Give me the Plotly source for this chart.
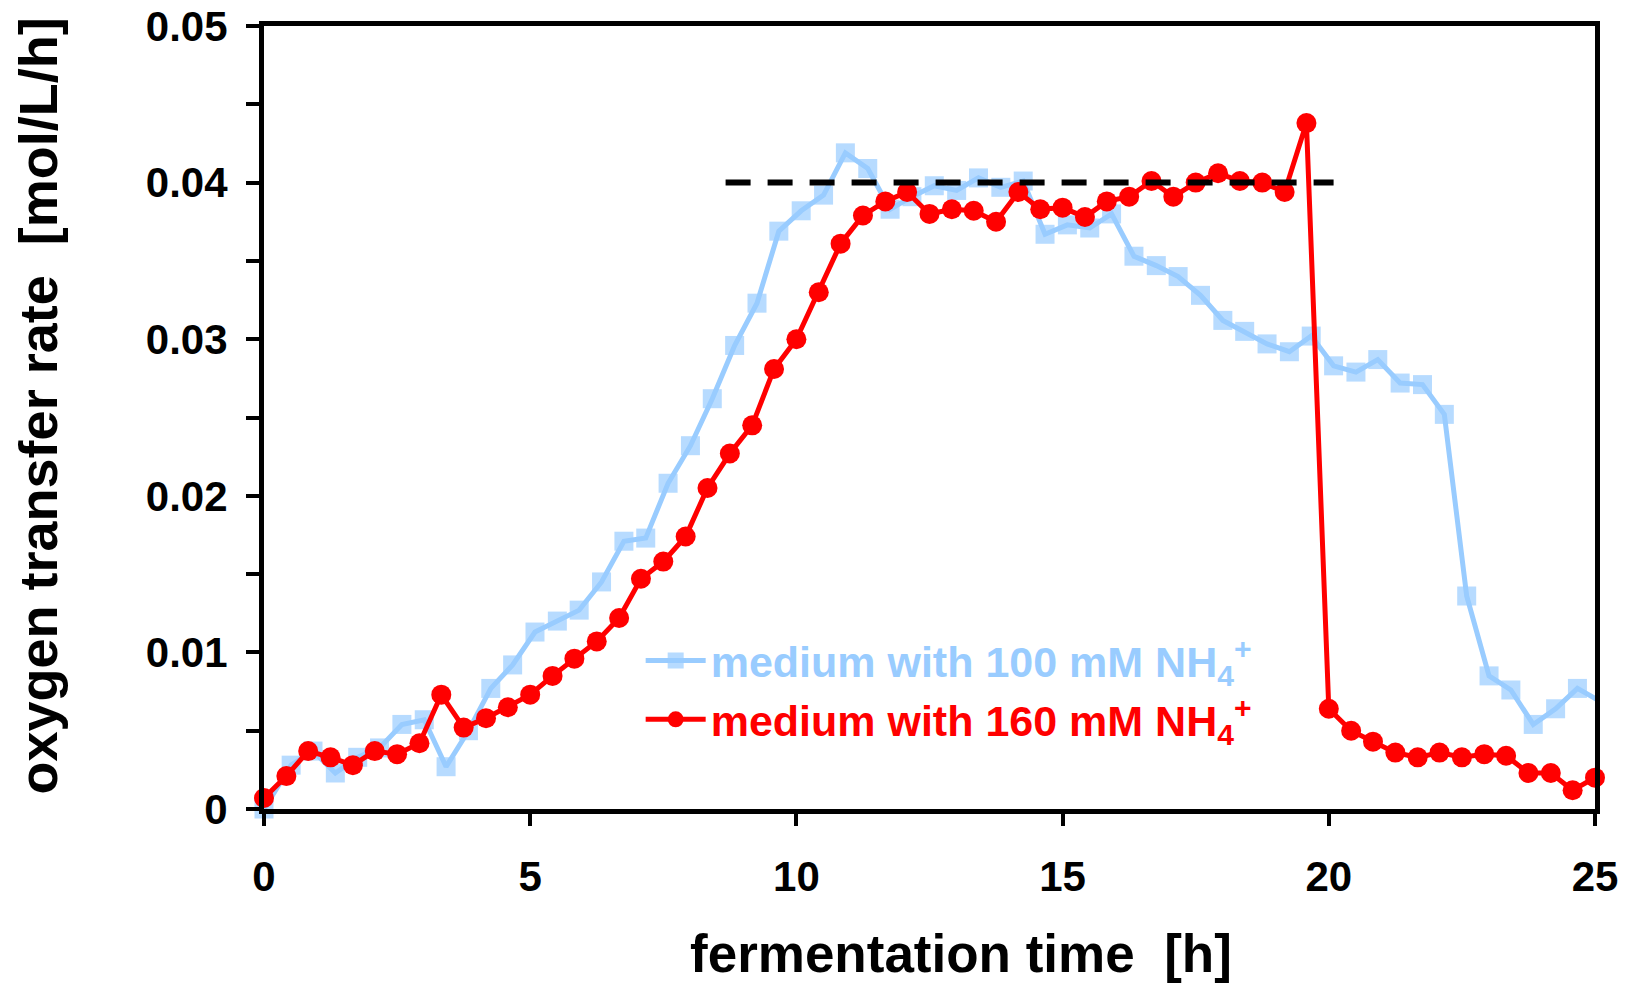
import plotly.graph_objects as go

# Oxygen transfer rate (mol/L/h) over fermentation time (h)
time_100 = [0.0, 0.51, 0.92, 1.34, 1.76, 2.17, 2.59, 3.01, 3.42, 3.84,
            4.26, 4.67, 5.09, 5.51, 5.92, 6.34, 6.76, 7.17, 7.59, 8.01,
            8.42, 8.84, 9.26, 9.67, 10.09, 10.51, 10.92, 11.34, 11.76, 12.17,
            12.59, 13.01, 13.42, 13.84, 14.26, 14.67, 15.09, 15.51, 15.92, 16.34,
            16.76, 17.17, 17.59, 18.01, 18.42, 18.84, 19.26, 19.67, 20.09, 20.51,
            20.92, 21.34, 21.76, 22.17, 22.59, 23.01, 23.42, 23.84, 24.26, 24.67,
            25.09]
otr_100 = [0.0000, 0.0028, 0.0037, 0.0023, 0.0033, 0.0039, 0.0054, 0.0057, 0.0027, 0.0050,
           0.0077, 0.0092, 0.0113, 0.0120, 0.0127, 0.0145, 0.0171, 0.0173, 0.0208, 0.0232,
           0.0262, 0.0296, 0.0323, 0.0369, 0.0382, 0.0392, 0.0419, 0.0409, 0.0383, 0.0391,
           0.0398, 0.0395, 0.0403, 0.0397, 0.0401, 0.0367, 0.0373, 0.0371, 0.0380, 0.0353,
           0.0347, 0.0340, 0.0328, 0.0312, 0.0305, 0.0297, 0.0292, 0.0302, 0.0283, 0.0279,
           0.0287, 0.0272, 0.0271, 0.0252, 0.0136, 0.0085, 0.0076, 0.0054, 0.0064, 0.0077,
           0.0069]

time_160 = [0.0, 0.42, 0.83, 1.25, 1.67, 2.08, 2.5, 2.92, 3.33, 3.75,
            4.17, 4.58, 5.0, 5.42, 5.83, 6.25, 6.67, 7.08, 7.5, 7.92,
            8.33, 8.75, 9.17, 9.58, 10.0, 10.42, 10.83, 11.25, 11.67, 12.08,
            12.5, 12.92, 13.33, 13.75, 14.17, 14.58, 15.0, 15.42, 15.83, 16.25,
            16.67, 17.08, 17.5, 17.92, 18.33, 18.75, 19.17, 19.58, 20.0, 20.42,
            20.83, 21.25, 21.67, 22.08, 22.5, 22.92, 23.33, 23.75, 24.17, 24.58,
            25.0]
otr_160 = [0.0007, 0.0021, 0.0037, 0.0033, 0.0028, 0.0037, 0.0035, 0.0042, 0.0073, 0.0052,
           0.0058, 0.0065, 0.0073, 0.0085, 0.0096, 0.0107, 0.0122, 0.0147, 0.0158, 0.0174,
           0.0205, 0.0227, 0.0245, 0.0281, 0.0300, 0.0330, 0.0361, 0.0379, 0.0388, 0.0394,
           0.0380, 0.0383, 0.0382, 0.0375, 0.0394, 0.0383, 0.0384, 0.0378, 0.0388, 0.0391,
           0.0401, 0.0391, 0.0400, 0.0406, 0.0401, 0.0400, 0.0394, 0.0438, 0.0064, 0.0050,
           0.0043, 0.0036, 0.0033, 0.0036, 0.0033, 0.0035, 0.0034, 0.0023, 0.0023, 0.0012,
           0.0020]

# Maximum oxygen transfer capacity (plateau)
plateau_time = [8.67, 20.09]
plateau_otr = [0.040, 0.040]

x_ticks = [0, 5, 10, 15, 20, 25]
y_ticks = [0, 0.01, 0.02, 0.03, 0.04, 0.05]
y_ticklabels = ["0", "0.01", "0.02", "0.03", "0.04", "0.05"]

BLUE = "#99CCFF"
RED = "#FF0000"
FONT = "Liberation Sans, Arial, sans-serif"

# last sample of the 100 mM run lies just past the axis end: line only, no marker
sizes_100 = [19] * (len(time_100) - 1) + [0]

fig = go.Figure()
fig.add_trace(go.Scatter(
    x=time_100, y=otr_100, mode="lines+markers", cliponaxis=False,
    name=f'<span style="color:{BLUE}">medium with 100 mM NH<sub>4</sub><sup>+</sup></span>',
    line=dict(color=BLUE, width=5),
    marker=dict(symbol="square", size=sizes_100, color=BLUE, line=dict(width=0)),
))
fig.add_trace(go.Scatter(
    x=time_160, y=otr_160, mode="lines+markers", cliponaxis=False,
    name=f'<span style="color:{RED}">medium with 160 mM NH<sub>4</sub><sup>+</sup></span>',
    line=dict(color=RED, width=5),
    marker=dict(symbol="circle", size=20, color=RED, line=dict(width=0)),
))
fig.add_trace(go.Scatter(
    x=plateau_time, y=plateau_otr, mode="lines", showlegend=False,
    line=dict(color="black", width=6, dash="25px,17px"),
))

axis_common = dict(
    showline=True, linecolor="black", linewidth=5, mirror=True,
    showgrid=False, zeroline=False, automargin=False,
    ticks="outside", tickcolor="black", tickwidth=4,
    ticklabeloverflow="allow",
    tickfont=dict(family=FONT, size=42, color="black", weight="bold"),
)

fig.update_layout(
    template="none",
    width=1631, height=985,
    margin=dict(l=264, r=36, t=26, b=176),
    paper_bgcolor="white", plot_bgcolor="white",
    showlegend=True,
    xaxis=dict(range=[0, 25], tickvals=x_ticks, ticklen=12,
               ticklabelstandoff=15, **axis_common),
    yaxis=dict(range=[0, 0.05], tickvals=y_ticks, ticktext=y_ticklabels,
               ticklen=13, ticklabelstandoff=10,
               minor=dict(dtick=0.005, ticks="outside", ticklen=13,
                          tickwidth=4, tickcolor="black"),
               **axis_common),
    legend=dict(
        x=0.283, y=0.152, xanchor="left", yanchor="middle",
        bgcolor="rgba(0,0,0,0)", borderwidth=0, itemwidth=60,
        font=dict(family=FONT, size=43, color="black", weight="bold"),
        tracegroupgap=0,
    ),
    annotations=[
        dict(text="fermentation time  [h]", xref="paper", yref="paper",
             x=0.524, y=-0.184, xanchor="center", yanchor="middle",
             showarrow=False,
             font=dict(family=FONT, size=53, color="black", weight="bold")),
        dict(text="oxygen transfer rate  [mol/L/h]", xref="paper", yref="paper",
             x=-0.170, y=0.515, xanchor="center", yanchor="middle",
             textangle=-90, showarrow=False,
             font=dict(family=FONT, size=54, color="black", weight="bold")),
    ],
)

fig.write_html("out.html")
